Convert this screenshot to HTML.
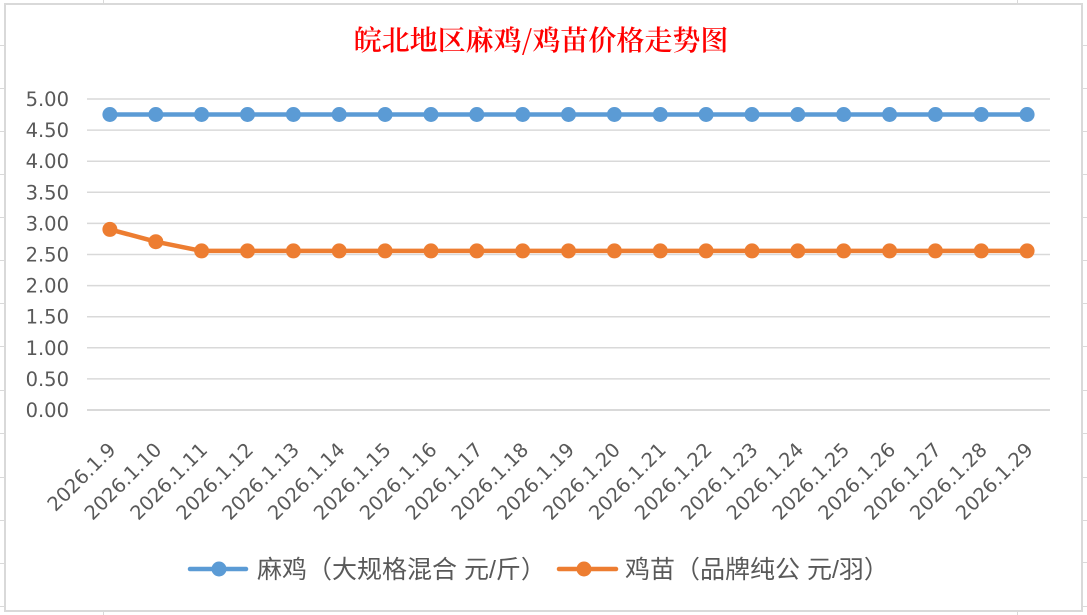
<!DOCTYPE html>
<html><head><meta charset="utf-8"><style>
html,body{margin:0;padding:0;background:#fff;}
svg{display:block;}
</style></head><body>
<svg width="1087" height="615" viewBox="0 0 1087 615" xmlns="http://www.w3.org/2000/svg">
<rect x="0" y="0" width="1087" height="615" fill="#fff"/>
<!-- spreadsheet background grid -->
<g stroke="#d9d9d9" stroke-width="1">
<line x1="0" y1="45.5" x2="5" y2="45.5"/><line x1="0" y1="88.5" x2="5" y2="88.5"/><line x1="0" y1="131.5" x2="5" y2="131.5"/><line x1="0" y1="174.5" x2="5" y2="174.5"/><line x1="0" y1="217.5" x2="5" y2="217.5"/><line x1="0" y1="260.5" x2="5" y2="260.5"/><line x1="0" y1="303.5" x2="5" y2="303.5"/><line x1="0" y1="346.5" x2="5" y2="346.5"/><line x1="0" y1="390.5" x2="5" y2="390.5"/><line x1="0" y1="433.5" x2="5" y2="433.5"/><line x1="0" y1="477.5" x2="5" y2="477.5"/><line x1="0" y1="520.5" x2="5" y2="520.5"/><line x1="0" y1="563.5" x2="5" y2="563.5"/><line x1="0" y1="606.5" x2="5" y2="606.5"/>
<line x1="1082" y1="45.5" x2="1087" y2="45.5"/><line x1="1082" y1="88.5" x2="1087" y2="88.5"/><line x1="1082" y1="131.5" x2="1087" y2="131.5"/><line x1="1082" y1="174.5" x2="1087" y2="174.5"/><line x1="1082" y1="217.5" x2="1087" y2="217.5"/><line x1="1082" y1="260.5" x2="1087" y2="260.5"/><line x1="1082" y1="303.5" x2="1087" y2="303.5"/><line x1="1082" y1="346.5" x2="1087" y2="346.5"/><line x1="1082" y1="390.5" x2="1087" y2="390.5"/><line x1="1082" y1="433.5" x2="1087" y2="433.5"/><line x1="1082" y1="477.5" x2="1087" y2="477.5"/><line x1="1082" y1="520.5" x2="1087" y2="520.5"/><line x1="1082" y1="562.5" x2="1087" y2="562.5"/><line x1="1082" y1="606.5" x2="1087" y2="606.5"/>
<line x1="103.5" y1="0" x2="103.5" y2="4"/><line x1="103.5" y1="611" x2="103.5" y2="615"/>
<line x1="1017.5" y1="611" x2="1017.5" y2="615"/><line x1="1017.5" y1="0" x2="1017.5" y2="4"/>
</g>
<!-- chart frame -->
<rect x="5" y="4" width="1077" height="607" fill="#fff" stroke="#d9d9d9" stroke-width="2"/>
<!-- title -->
<text x="541" y="50" text-anchor="middle" font-family="'Noto Serif CJK SC','Liberation Serif',serif" font-size="28" fill="#ff0000" font-weight="600">皖北地区麻鸡/鸡苗价格走势图</text>
<!-- gridlines -->
<g stroke="#d9d9d9" stroke-width="1.5">
<line x1="87" y1="99" x2="1050" y2="99"/>
<line x1="87" y1="130.1" x2="1050" y2="130.1"/>
<line x1="87" y1="161.2" x2="1050" y2="161.2"/>
<line x1="87" y1="192.3" x2="1050" y2="192.3"/>
<line x1="87" y1="223.4" x2="1050" y2="223.4"/>
<line x1="87" y1="254.5" x2="1050" y2="254.5"/>
<line x1="87" y1="285.6" x2="1050" y2="285.6"/>
<line x1="87" y1="316.7" x2="1050" y2="316.7"/>
<line x1="87" y1="347.8" x2="1050" y2="347.8"/>
<line x1="87" y1="378.9" x2="1050" y2="378.9"/>
<line x1="87" y1="410" x2="1050" y2="410" stroke-width="2"/>
</g>
<!-- y labels -->
<g font-family="'DejaVu Sans','Liberation Sans',sans-serif" font-size="19.5" fill="#595959" text-anchor="end">
<text x="69" y="106">5.00</text>
<text x="69" y="137.1">4.50</text>
<text x="69" y="168.2">4.00</text>
<text x="69" y="199.3">3.50</text>
<text x="69" y="230.4">3.00</text>
<text x="69" y="261.5">2.50</text>
<text x="69" y="292.6">2.00</text>
<text x="69" y="323.7">1.50</text>
<text x="69" y="354.8">1.00</text>
<text x="69" y="385.9">0.50</text>
<text x="69" y="417">0.00</text>
</g>
<!-- x labels -->
<g font-family="'DejaVu Sans','Liberation Sans',sans-serif" font-size="19.5" fill="#595959" text-anchor="end">
<text transform="translate(116.9,451) rotate(-45)">2026.1.9</text>
<text transform="translate(162.8,451) rotate(-45)">2026.1.10</text>
<text transform="translate(208.6,451) rotate(-45)">2026.1.11</text>
<text transform="translate(254.5,451) rotate(-45)">2026.1.12</text>
<text transform="translate(300.4,451) rotate(-45)">2026.1.13</text>
<text transform="translate(346.2,451) rotate(-45)">2026.1.14</text>
<text transform="translate(392.1,451) rotate(-45)">2026.1.15</text>
<text transform="translate(438.0,451) rotate(-45)">2026.1.16</text>
<text transform="translate(483.8,451) rotate(-45)">2026.1.17</text>
<text transform="translate(529.7,451) rotate(-45)">2026.1.18</text>
<text transform="translate(575.5,451) rotate(-45)">2026.1.19</text>
<text transform="translate(621.4,451) rotate(-45)">2026.1.20</text>
<text transform="translate(667.3,451) rotate(-45)">2026.1.21</text>
<text transform="translate(713.1,451) rotate(-45)">2026.1.22</text>
<text transform="translate(759.0,451) rotate(-45)">2026.1.23</text>
<text transform="translate(804.8,451) rotate(-45)">2026.1.24</text>
<text transform="translate(850.7,451) rotate(-45)">2026.1.25</text>
<text transform="translate(896.6,451) rotate(-45)">2026.1.26</text>
<text transform="translate(942.4,451) rotate(-45)">2026.1.27</text>
<text transform="translate(988.3,451) rotate(-45)">2026.1.28</text>
<text transform="translate(1034.1,451) rotate(-45)">2026.1.29</text>
</g>
<!-- blue series -->
<polyline fill="none" stroke="#5b9bd5" stroke-width="4.5" stroke-linejoin="round" stroke-linecap="round"
points="109.9,114.5 155.8,114.5 201.6,114.5 247.5,114.5 293.4,114.5 339.2,114.5 385.1,114.5 431.0,114.5 476.8,114.5 522.7,114.5 568.5,114.5 614.4,114.5 660.3,114.5 706.1,114.5 752.0,114.5 797.8,114.5 843.7,114.5 889.6,114.5 935.4,114.5 981.3,114.5 1027.1,114.5"/>
<g fill="#5b9bd5">
<circle cx="109.9" cy="114.5" r="7.5"/><circle cx="155.8" cy="114.5" r="7.5"/><circle cx="201.6" cy="114.5" r="7.5"/><circle cx="247.5" cy="114.5" r="7.5"/><circle cx="293.4" cy="114.5" r="7.5"/><circle cx="339.2" cy="114.5" r="7.5"/><circle cx="385.1" cy="114.5" r="7.5"/><circle cx="431.0" cy="114.5" r="7.5"/><circle cx="476.8" cy="114.5" r="7.5"/><circle cx="522.7" cy="114.5" r="7.5"/><circle cx="568.5" cy="114.5" r="7.5"/><circle cx="614.4" cy="114.5" r="7.5"/><circle cx="660.3" cy="114.5" r="7.5"/><circle cx="706.1" cy="114.5" r="7.5"/><circle cx="752.0" cy="114.5" r="7.5"/><circle cx="797.8" cy="114.5" r="7.5"/><circle cx="843.7" cy="114.5" r="7.5"/><circle cx="889.6" cy="114.5" r="7.5"/><circle cx="935.4" cy="114.5" r="7.5"/><circle cx="981.3" cy="114.5" r="7.5"/><circle cx="1027.1" cy="114.5" r="7.5"/>
</g>
<!-- orange series -->
<polyline fill="none" stroke="#ed7d31" stroke-width="4.5" stroke-linejoin="round" stroke-linecap="round"
points="109.9,229.4 155.8,241.7 201.6,250.9 247.5,250.9 293.4,250.9 339.2,250.9 385.1,250.9 431.0,250.9 476.8,250.9 522.7,250.9 568.5,250.9 614.4,250.9 660.3,250.9 706.1,250.9 752.0,250.9 797.8,250.9 843.7,250.9 889.6,250.9 935.4,250.9 981.3,250.9 1027.1,250.9"/>
<g fill="#ed7d31">
<circle cx="109.9" cy="229.4" r="7.5"/><circle cx="155.8" cy="241.7" r="7.5"/><circle cx="201.6" cy="250.9" r="7.5"/><circle cx="247.5" cy="250.9" r="7.5"/><circle cx="293.4" cy="250.9" r="7.5"/><circle cx="339.2" cy="250.9" r="7.5"/><circle cx="385.1" cy="250.9" r="7.5"/><circle cx="431.0" cy="250.9" r="7.5"/><circle cx="476.8" cy="250.9" r="7.5"/><circle cx="522.7" cy="250.9" r="7.5"/><circle cx="568.5" cy="250.9" r="7.5"/><circle cx="614.4" cy="250.9" r="7.5"/><circle cx="660.3" cy="250.9" r="7.5"/><circle cx="706.1" cy="250.9" r="7.5"/><circle cx="752.0" cy="250.9" r="7.5"/><circle cx="797.8" cy="250.9" r="7.5"/><circle cx="843.7" cy="250.9" r="7.5"/><circle cx="889.6" cy="250.9" r="7.5"/><circle cx="935.4" cy="250.9" r="7.5"/><circle cx="981.3" cy="250.9" r="7.5"/><circle cx="1027.1" cy="250.9" r="7.5"/>
</g>
<!-- legend -->
<line x1="190" y1="569" x2="246" y2="569" stroke="#5b9bd5" stroke-width="4.5" stroke-linecap="round"/>
<circle cx="219" cy="569" r="7.5" fill="#5b9bd5"/>
<text x="257" y="578" font-family="'Liberation Sans','Noto Sans CJK SC',sans-serif" font-size="25" fill="#595959">麻鸡（大规格混合 元/斤）</text>
<line x1="559" y1="569" x2="616" y2="569" stroke="#ed7d31" stroke-width="4.5" stroke-linecap="round"/>
<circle cx="584" cy="569" r="7.5" fill="#ed7d31"/>
<text x="625" y="578" font-family="'Liberation Sans','Noto Sans CJK SC',sans-serif" font-size="25" fill="#595959">鸡苗（品牌纯公 元/羽）</text>
</svg>
</body></html>
